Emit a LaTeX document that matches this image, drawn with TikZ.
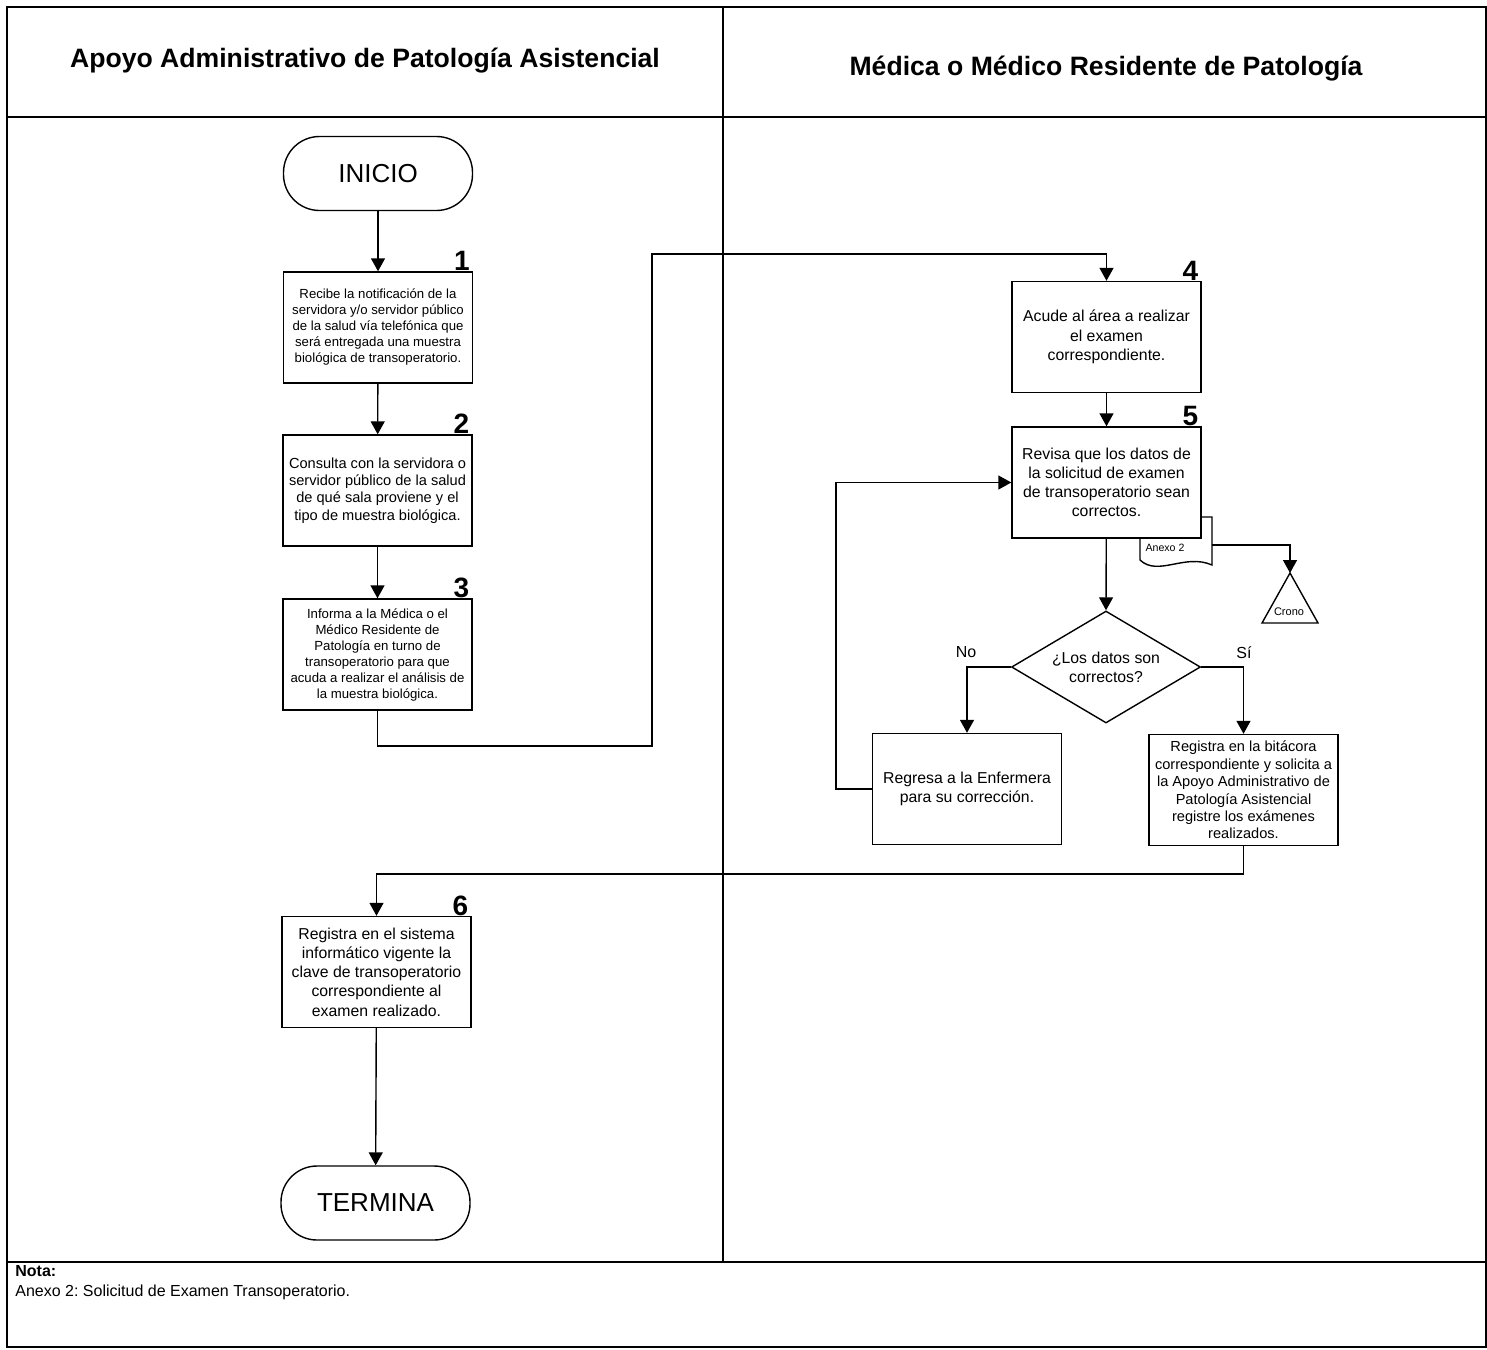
\documentclass[tikz,border=0pt]{standalone}
\usepackage{fontspec}
\setmainfont{Liberation Sans}
\usetikzlibrary{arrows.meta,shapes.geometric}
\frenchspacing
\begin{document}
\begin{tikzpicture}[x=0.5pt,y=-0.5pt,
 box/.style={draw, line width=0.7pt, fill=white, inner sep=1pt, align=center, minimum width=94.5pt, minimum height=55.5pt},
 smalltxt/.style={font=\fontsize{6.6}{8}\selectfont},
 midtxt/.style={font=\fontsize{7.3}{8.7}\selectfont},
 bigtxt/.style={font=\fontsize{7.9}{9.6}\selectfont},
 term/.style={draw, line width=0.7pt, rounded corners=18pt, minimum width=94.5pt, minimum height=37pt, font=\fontsize{13}{15}\selectfont},
 num/.style={font=\bfseries\fontsize{14}{14}\selectfont, anchor=base east, inner sep=0pt, xshift=-1.5pt, yshift=0.3pt},
 arr/.style={line width=0.7pt, -{Triangle[length=6.5pt,width=7pt]}},
 ln/.style={line width=0.7pt},
 frame/.style={line width=1.3pt},
 title/.style={font=\bfseries\fontsize{13.3}{16}\selectfont}
]
\useasboundingbox (0,0) rectangle (1487,1349);
% frame
\draw[frame] (7,7) rectangle (1486,1347);
\draw[frame] (7,117) -- (1486,117);
\draw[frame] (7,1262) -- (1486,1262);
\draw[line width=1pt] (723,7) -- (723,1262);
% titles
\node[title] (t1) at (365,61) {Apoyo Administrativo de Patología Asistencial};
\node[title] (t2) at (1106,69) {Médica o Médico Residente de Patología};
% footer
\node[anchor=base west, font=\bfseries\fontsize{8}{9}\selectfont, inner sep=0pt] (nota) at (15,1276) {Nota:};
\node[anchor=base west, font=\fontsize{8}{9}\selectfont, inner sep=0pt] (anexo) at (15,1296) {Anexo 2: Solicitud de Examen Transoperatorio.};
% left lane
\node[term] (inicio) at (378,173.5) {INICIO};
\node[box, smalltxt] (b1) at (378,327.5) {Recibe la notificación de la\\servidora y/o servidor público\\de la salud vía telefónica que\\será entregada una muestra\\biológica de transoperatorio.};
\node[num] at (b1.north east) {1};
\node[box, midtxt] (b2) at (377.5,490.5) {Consulta con la servidora o\\servidor público de la salud\\de qué sala proviene y el\\tipo de muestra biológica.};
\node[num] at (b2.north east) {2};
\node[box, smalltxt] (b3) at (377.5,654.5) {Informa a la Médica o el\\Médico Residente de\\Patología en turno de\\transoperatorio para que\\acuda a realizar el análisis de\\la muestra biológica.};
\node[num] at (b3.north east) {3};
\node[box, bigtxt] (b6) at (376.5,972) {Registra en el sistema\\informático vigente la\\clave de transoperatorio\\correspondiente al\\examen realizado.};
\node[num] at (b6.north east) {6};
\node[term] (termina) at (375.5,1203) {TERMINA};
% right lane
\node[box, bigtxt] (b4) at (1106.5,337) {Acude al área a realizar\\el examen\\correspondiente.};
\node[num] at (b4.north east) {4};
% document Anexo 2
\draw[ln, fill=white] (1140,517) -- (1212,517) -- (1212,565) .. controls (1185,553) and (1158,577) .. (1140,560) -- cycle;
\node[font=\fontsize{5.3}{6}\selectfont, inner sep=0pt] (anx) at (1165,548) {Anexo 2};
\node[box, bigtxt] (b5) at (1106.5,482.5) {Revisa que los datos de\\la solicitud de examen\\de transoperatorio sean\\correctos.};
\node[num] at (b5.north east) {5};
% crono
\draw[ln] (1290,573) -- (1318,623) -- (1262,623) -- cycle;
\node[font=\fontsize{5.5}{6}\selectfont, inner sep=0pt] (crono) at (1289,612) {Crono};
\coordinate (docE) at (1212,545);
\coordinate (cronoTop) at (1290,573);
% decision
\node[draw, diamond, ln, minimum width=94.5pt, minimum height=56pt, inner sep=0pt, aspect=1.7, align=center, bigtxt] (dec) at (1106,667) {¿Los datos son\\correctos?};
\node[font=\fontsize{8}{9}\selectfont] (lno) at (966,652) {No};
\node[font=\fontsize{8}{9}\selectfont] (lsi) at (1244,653) {Sí};
\node[box, bigtxt] (no) at (967,789) {Regresa a la Enfermera\\para su corrección.};
\node[box, midtxt] (si) at (1243.5,790) {Registra en la bitácora\\correspondiente y solicita a\\la Apoyo Administrativo de\\Patología Asistencial\\registre los exámenes\\realizados.};
% connectors
\coordinate (r1) at (652,746);
\coordinate (r2) at (652,254);
\coordinate (lp) at (836,0);
\coordinate (yb) at (0,874);
\draw[arr] (inicio) -- (b1);
\draw[arr] (b1) -- (b2);
\draw[arr] (b2) -- (b3);
\draw[arr] (b3.south) |- (r1) -- (r2) -| (b4.north);
\draw[arr] (b4) -- (b5);
\draw[arr] (b5) -- (dec.north);
\draw[arr] (docE) -| (cronoTop);
\draw[arr] (dec.west) -| (no.north);
\draw[arr] (dec.east) -| (si.north);
\draw[arr] (no.west) -- (no.west -| lp) |- (b5.west);
\draw[arr] (si.south) -- (si.south |- yb) -| (b6.north);
\draw[arr] (b6) -- (termina);
\end{tikzpicture}
\end{document}
